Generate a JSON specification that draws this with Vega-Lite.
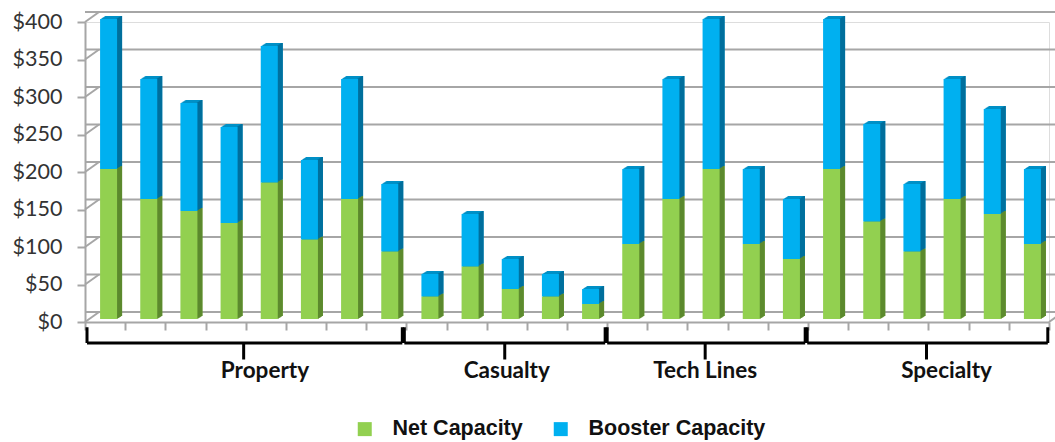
{"$schema":"https://vega.github.io/schema/vega-lite/v6.json","width":964,"height":300,"autosize":"none","padding":{"left":85,"top":22,"right":6,"bottom":120},"background":"white",
"config":{"axisY":{"title":null,"grid":false,"format":"$.0f","tickCount":9,"labelOverlap":false,"domainColor":"#a6a6a6","domainWidth":2,"tickColor":"#a6a6a6","tickWidth":2,"tickSize":8,"labelPadding":15,"labelFont":"Lato","labelFontSize":21.5,"labelColor":"#333333"}},
"datasets":{
"bars":[
{"bar":"P1","group":"Property","series":"Net Capacity","value":200},{"bar":"P1","group":"Property","series":"Booster Capacity","value":200},
{"bar":"P2","group":"Property","series":"Net Capacity","value":160},{"bar":"P2","group":"Property","series":"Booster Capacity","value":160},
{"bar":"P3","group":"Property","series":"Net Capacity","value":144},{"bar":"P3","group":"Property","series":"Booster Capacity","value":144},
{"bar":"P4","group":"Property","series":"Net Capacity","value":128},{"bar":"P4","group":"Property","series":"Booster Capacity","value":128},
{"bar":"P5","group":"Property","series":"Net Capacity","value":182},{"bar":"P5","group":"Property","series":"Booster Capacity","value":182},
{"bar":"P6","group":"Property","series":"Net Capacity","value":106},{"bar":"P6","group":"Property","series":"Booster Capacity","value":106},
{"bar":"P7","group":"Property","series":"Net Capacity","value":160},{"bar":"P7","group":"Property","series":"Booster Capacity","value":160},
{"bar":"P8","group":"Property","series":"Net Capacity","value":90},{"bar":"P8","group":"Property","series":"Booster Capacity","value":90},
{"bar":"C1","group":"Casualty","series":"Net Capacity","value":30},{"bar":"C1","group":"Casualty","series":"Booster Capacity","value":30},
{"bar":"C2","group":"Casualty","series":"Net Capacity","value":70},{"bar":"C2","group":"Casualty","series":"Booster Capacity","value":70},
{"bar":"C3","group":"Casualty","series":"Net Capacity","value":40},{"bar":"C3","group":"Casualty","series":"Booster Capacity","value":40},
{"bar":"C4","group":"Casualty","series":"Net Capacity","value":30},{"bar":"C4","group":"Casualty","series":"Booster Capacity","value":30},
{"bar":"C5","group":"Casualty","series":"Net Capacity","value":20},{"bar":"C5","group":"Casualty","series":"Booster Capacity","value":20},
{"bar":"T1","group":"Tech Lines","series":"Net Capacity","value":100},{"bar":"T1","group":"Tech Lines","series":"Booster Capacity","value":100},
{"bar":"T2","group":"Tech Lines","series":"Net Capacity","value":160},{"bar":"T2","group":"Tech Lines","series":"Booster Capacity","value":160},
{"bar":"T3","group":"Tech Lines","series":"Net Capacity","value":200},{"bar":"T3","group":"Tech Lines","series":"Booster Capacity","value":200},
{"bar":"T4","group":"Tech Lines","series":"Net Capacity","value":100},{"bar":"T4","group":"Tech Lines","series":"Booster Capacity","value":100},
{"bar":"T5","group":"Tech Lines","series":"Net Capacity","value":80},{"bar":"T5","group":"Tech Lines","series":"Booster Capacity","value":80},
{"bar":"S1","group":"Specialty","series":"Net Capacity","value":200},{"bar":"S1","group":"Specialty","series":"Booster Capacity","value":200},
{"bar":"S2","group":"Specialty","series":"Net Capacity","value":130},{"bar":"S2","group":"Specialty","series":"Booster Capacity","value":130},
{"bar":"S3","group":"Specialty","series":"Net Capacity","value":90},{"bar":"S3","group":"Specialty","series":"Booster Capacity","value":90},
{"bar":"S4","group":"Specialty","series":"Net Capacity","value":160},{"bar":"S4","group":"Specialty","series":"Booster Capacity","value":160},
{"bar":"S5","group":"Specialty","series":"Net Capacity","value":140},{"bar":"S5","group":"Specialty","series":"Booster Capacity","value":140},
{"bar":"S6","group":"Specialty","series":"Net Capacity","value":100},{"bar":"S6","group":"Specialty","series":"Booster Capacity","value":100}
],
"levels":[{"v":0},{"v":50},{"v":100},{"v":150},{"v":200},{"v":250},{"v":300},{"v":350},{"v":400}],
"groups":[
{"group":"Property","start":0.05,"end":7.9,"mid":3.95,"labelAt":4.48},
{"group":"Casualty","start":7.95,"end":12.95,"mid":10.45,"labelAt":10.5},
{"group":"Tech Lines","start":13,"end":17.93,"mid":15.44,"labelAt":15.44},
{"group":"Specialty","start":17.98,"end":23.97,"mid":20.95,"labelAt":21.45}
]},
"resolve":{"scale":{"x":"independent"}},
"layer":[
{"data":{"name":"levels"},"mark":{"type":"rule","color":"#a6a6a6","strokeWidth":2,"xOffset":14,"yOffset":-10},
 "encoding":{"y":{"field":"v","type":"quantitative","scale":{"domain":[0,400],"nice":false},"axis":{"values":[0,50,100,150,200,250,300,350,400]}}}},
{"data":{"name":"levels"},"mark":{"type":"rule","color":"#a6a6a6","strokeWidth":2,"y2Offset":-10},
 "encoding":{"x":{"datum":0,"type":"quantitative","scale":{"domain":[0,24]},"axis":null},"x2":{"datum":0.35},
 "y":{"field":"v","type":"quantitative","axis":{"values":[0,50,100,150,200,250,300,350,400]}},"y2":{"field":"v"}}},
{"data":{"name":"levels"},"transform":[{"filter":"datum.v === 0"}],"mark":{"type":"rule","color":"#a6a6a6","strokeWidth":2,"y2Offset":-10},
 "encoding":{"x":{"datum":24,"type":"quantitative","scale":{"domain":[0,24]},"axis":null},"x2":{"datum":24.35},
 "y":{"field":"v","type":"quantitative","axis":{"values":[0,50,100,150,200,250,300,350,400]}},"y2":{"field":"v"}}},
{"data":{"name":"bars"},
 "encoding":{"x":{"field":"bar","type":"nominal","sort":null,"scale":{"paddingInner":0,"paddingOuter":0},
   "axis":{"title":null,"labels":false,"domainColor":"#a6a6a6","domainWidth":2,"tickColor":"#a6a6a6","tickWidth":2,"tickSize":8,"tickBand":"extent"}},
  "y":{"field":"value","type":"quantitative","stack":"zero","scale":{"domain":[0,400],"nice":false},"axis":{"values":[0,50,100,150,200,250,300,350,400]}},
  "order":{"field":"series","sort":"descending"}},
 "layer":[
 {"mark":{"type":"bar","size":17,"xOffset":4.5,"yOffset":-3.6},"encoding":{"color":{"condition":{"test":"datum.series === 'Net Capacity'","value":"#76a83c"},"value":"#0090c6"}}},
 {"mark":{"type":"bar","size":17,"xOffset":5.5,"yOffset":-4.2},"encoding":{"color":{"condition":{"test":"datum.series === 'Net Capacity'","value":"#76a83c"},"value":"#0090c6"}}},
 {"mark":{"type":"bar","size":17,"xOffset":6.5,"yOffset":-4.8},"encoding":{"color":{"condition":{"test":"datum.series === 'Net Capacity'","value":"#76a83c"},"value":"#0090c6"}}},
 {"mark":{"type":"bar","size":17,"xOffset":7.5,"yOffset":-5.4},"encoding":{"color":{"condition":{"test":"datum.series === 'Net Capacity'","value":"#76a83c"},"value":"#0090c6"}}},
 {"mark":{"type":"bar","size":17,"xOffset":8.5,"yOffset":-6},"encoding":{"color":{"condition":{"test":"datum.series === 'Net Capacity'","value":"#76a83c"},"value":"#0090c6"}}},
 {"mark":{"type":"bar","size":1.5,"xOffset":12.25,"yOffset":-3.6},"encoding":{"color":{"condition":{"test":"datum.series === 'Net Capacity'","value":"#5c8a2e"},"value":"#006f9c"}}},
 {"mark":{"type":"bar","size":1.5,"xOffset":13.25,"yOffset":-4.2},"encoding":{"color":{"condition":{"test":"datum.series === 'Net Capacity'","value":"#5c8a2e"},"value":"#006f9c"}}},
 {"mark":{"type":"bar","size":1.5,"xOffset":14.25,"yOffset":-4.8},"encoding":{"color":{"condition":{"test":"datum.series === 'Net Capacity'","value":"#5c8a2e"},"value":"#006f9c"}}},
 {"mark":{"type":"bar","size":1.5,"xOffset":15.25,"yOffset":-5.4},"encoding":{"color":{"condition":{"test":"datum.series === 'Net Capacity'","value":"#5c8a2e"},"value":"#006f9c"}}},
 {"mark":{"type":"bar","size":1.5,"xOffset":16.25,"yOffset":-6},"encoding":{"color":{"condition":{"test":"datum.series === 'Net Capacity'","value":"#5c8a2e"},"value":"#006f9c"}}},
 {"mark":{"type":"bar","size":17,"xOffset":3.5,"yOffset":-3},
  "encoding":{"color":{"field":"series","type":"nominal","scale":{"domain":["Net Capacity","Booster Capacity"],"range":["#92d050","#00b0f0"]},
   "legend":{"title":null,"orient":"none","legendX":269,"legendY":396,"direction":"horizontal","symbolType":"square","symbolSize":196,"symbolStrokeWidth":0,"symbolOpacity":1,"labelFont":"Liberation Sans","labelFontWeight":"bold","labelFontSize":21.5,"labelColor":"#111111","labelOffset":17,"labelLimit":0,"columnPadding":27}}}}
 ]},
{"data":{"name":"groups"},"mark":{"type":"rule","color":"black","strokeWidth":3},
 "encoding":{"x":{"field":"start","type":"quantitative","scale":{"domain":[0,24]},"axis":null},"x2":{"field":"end"},"y":{"datum":-28,"axis":{"values":[0,50,100,150,200,250,300,350,400]}}}},
{"data":{"name":"groups"},"mark":{"type":"rule","color":"black","strokeWidth":3},
 "encoding":{"x":{"field":"start","type":"quantitative","scale":{"domain":[0,24]},"axis":null},"y":{"datum":-7,"axis":{"values":[0,50,100,150,200,250,300,350,400]}},"y2":{"datum":-28}}},
{"data":{"name":"groups"},"mark":{"type":"rule","color":"black","strokeWidth":3},
 "encoding":{"x":{"field":"end","type":"quantitative","scale":{"domain":[0,24]},"axis":null},"y":{"datum":-7,"axis":{"values":[0,50,100,150,200,250,300,350,400]}},"y2":{"datum":-28}}},
{"data":{"name":"groups"},"mark":{"type":"rule","color":"black","strokeWidth":3},
 "encoding":{"x":{"field":"mid","type":"quantitative","scale":{"domain":[0,24]},"axis":null},"y":{"datum":-28,"axis":{"values":[0,50,100,150,200,250,300,350,400]}},"y2":{"datum":-50}}},
{"data":{"name":"groups"},"mark":{"type":"text","font":"Lato","fontWeight":"bold","fontSize":22.5,"color":"#111111","align":"center","baseline":"middle"},
 "encoding":{"x":{"field":"labelAt","type":"quantitative","scale":{"domain":[0,24]},"axis":null},"y":{"datum":-65,"axis":{"values":[0,50,100,150,200,250,300,350,400]}},"text":{"field":"group"}}}
]}
